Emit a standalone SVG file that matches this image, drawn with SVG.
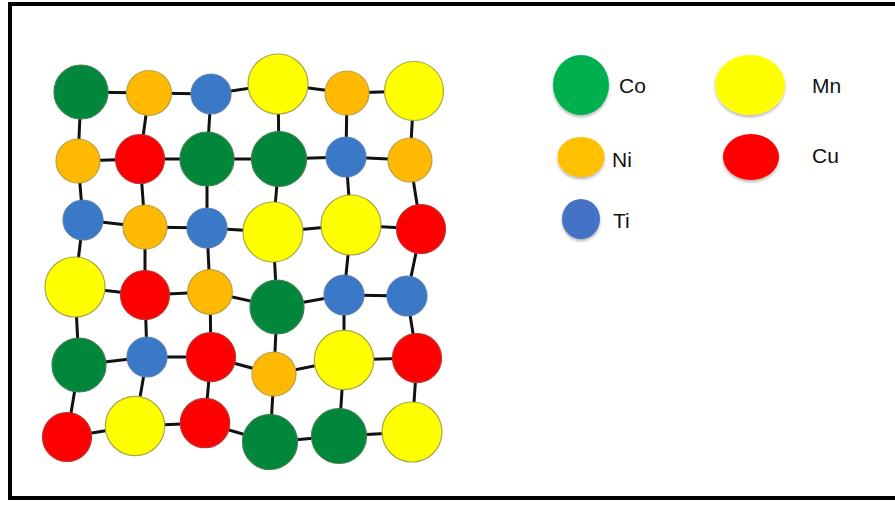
<svg xmlns="http://www.w3.org/2000/svg" width="895" height="505" viewBox="0 0 895 505">
<defs>
<style>
.co{fill:#00873C;stroke:#3f7f4f;stroke-width:1.2}
.ni{fill:#FFB900;stroke:#b8a040;stroke-width:1.2}
.ti{fill:#3A78C8;stroke:#5a7fb0;stroke-width:1.2}
.mn{fill:#FFFF00;stroke:#a8a840;stroke-width:1.2}
.cu{fill:#FF0000;stroke:#c03030;stroke-width:1.2}
.lco{fill:#00B050}
.lni{fill:#FFC000}
.lti{fill:#4472C4}
.lmn{fill:#FFFF00}
.lcu{fill:#FF0000}
.bond{stroke:#111;stroke-width:3;fill:none}
.grid{stroke:#b0b0b0;stroke-width:1.5;stroke-dasharray:8 5;fill:none}
.lbl{font-family:"Liberation Sans",Arial,sans-serif;font-size:21px;fill:#111}
</style>
<filter id="sh" x="-20%" y="-20%" width="140%" height="150%">
<feDropShadow dx="0" dy="2" stdDeviation="1.5" flood-color="#000" flood-opacity="0.3"/>
</filter>
</defs>
<rect x="0" y="0" width="895" height="505" fill="#fff"/>
<rect x="10" y="4" width="900" height="494" fill="none" stroke="#000" stroke-width="4"/>
<g id="connectors">
<g class="bond">
<polyline points="81,92 149,93 211,94 278,84 347,93 414,91"/>
<polyline points="78,161 140,159 207,159 279,159 346,157 410,160"/>
<polyline points="83,220 145,227 207,228 273,232 351,225 421,229"/>
<polyline points="75,287 145,295 210,292 277,307 344,295 407,296"/>
<polyline points="79,365 147,357 211,357 274,374 344,360 417,358"/>
<polyline points="67,437 135,426 205,423 270,442 339,436 412,432"/>
<polyline points="81,92 78,161 83,220 75,287 79,365 67,437"/>
<polyline points="149,93 140,159 145,227 145,295 147,357 135,426"/>
<polyline points="211,94 207,159 207,228 210,292 211,357 205,423"/>
<polyline points="278,84 279,159 273,232 277,307 274,374 270,442"/>
<polyline points="347,93 346,157 351,225 344,295 344,360 339,436"/>
<polyline points="414,91 410,160 421,229 407,296 417,358 412,432"/>
</g>
</g>
<g id="grid-nodes">
<g id="n11"><circle class="co" cx="81" cy="92" r="27"/></g>
<g id="n12"><circle class="ni" cx="149" cy="93" r="22.5"/></g>
<g id="n13"><circle class="ti" cx="211" cy="94" r="20"/></g>
<g id="n14"><circle class="mn" cx="278" cy="84" r="30"/></g>
<g id="n15"><circle class="ni" cx="347" cy="93" r="22"/></g>
<g id="n16"><circle class="mn" cx="414" cy="91" r="29.5"/></g>
<g id="n21"><circle class="ni" cx="78" cy="161" r="22"/></g>
<g id="n22"><circle class="cu" cx="140" cy="159" r="24.5"/></g>
<g id="n23"><circle class="co" cx="207" cy="159" r="27"/></g>
<g id="n24"><circle class="co" cx="279" cy="159" r="27.5"/></g>
<g id="n25"><circle class="ti" cx="346" cy="157" r="20"/></g>
<g id="n26"><circle class="ni" cx="410" cy="160" r="22"/></g>
<g id="n31"><circle class="ti" cx="83" cy="220" r="20"/></g>
<g id="n32"><circle class="ni" cx="145" cy="227" r="22"/></g>
<g id="n33"><circle class="ti" cx="207" cy="228" r="20"/></g>
<g id="n34"><circle class="mn" cx="273" cy="232" r="30"/></g>
<g id="n35"><circle class="mn" cx="351" cy="225" r="30"/></g>
<g id="n36"><circle class="cu" cx="421" cy="229" r="24.5"/></g>
<g id="n41"><circle class="mn" cx="75" cy="287" r="30"/></g>
<g id="n42"><circle class="cu" cx="145" cy="295" r="24.5"/></g>
<g id="n43"><circle class="ni" cx="210" cy="292" r="22.3"/></g>
<g id="n44"><circle class="co" cx="277" cy="307" r="27"/></g>
<g id="n45"><circle class="ti" cx="344" cy="295" r="20"/></g>
<g id="n46"><circle class="ti" cx="407" cy="296" r="20"/></g>
<g id="n51"><circle class="co" cx="79" cy="365" r="27"/></g>
<g id="n52"><circle class="ti" cx="147" cy="357" r="20"/></g>
<g id="n53"><circle class="cu" cx="211" cy="357" r="24.5"/></g>
<g id="n54"><circle class="ni" cx="274" cy="374" r="22"/></g>
<g id="n55"><circle class="mn" cx="344" cy="360" r="29.7"/></g>
<g id="n56"><circle class="cu" cx="417" cy="358" r="24.5"/></g>
<g id="n61"><circle class="cu" cx="67" cy="437" r="24.5"/></g>
<g id="n62"><circle class="mn" cx="135" cy="426" r="29.7"/></g>
<g id="n63"><circle class="cu" cx="205" cy="423" r="24.7"/></g>
<g id="n64"><circle class="co" cx="270" cy="442" r="27.5"/></g>
<g id="n65"><circle class="co" cx="339" cy="436" r="27.5"/></g>
<g id="n66"><circle class="mn" cx="412" cy="432" r="30"/></g>
</g>
<g id="legend">
<g id="leg-co"><ellipse class="lco" cx="581" cy="85" rx="28" ry="30" filter="url(#sh)"/><text class="lbl" x="619" y="93">Co</text></g>
<g id="leg-mn"><ellipse class="lmn" cx="750" cy="85" rx="35" ry="30" filter="url(#sh)"/><text class="lbl" x="812" y="93">Mn</text></g>
<g id="leg-ni"><ellipse class="lni" cx="581" cy="157" rx="23.5" ry="20" filter="url(#sh)"/><text class="lbl" x="612" y="167">Ni</text></g>
<g id="leg-cu"><ellipse class="lcu" cx="751" cy="157" rx="28" ry="23" filter="url(#sh)"/><text class="lbl" x="812" y="163">Cu</text></g>
<g id="leg-ti"><ellipse class="lti" cx="581" cy="219" rx="19" ry="20" filter="url(#sh)"/><text class="lbl" x="613" y="228">Ti</text></g>
</g>
</svg>
